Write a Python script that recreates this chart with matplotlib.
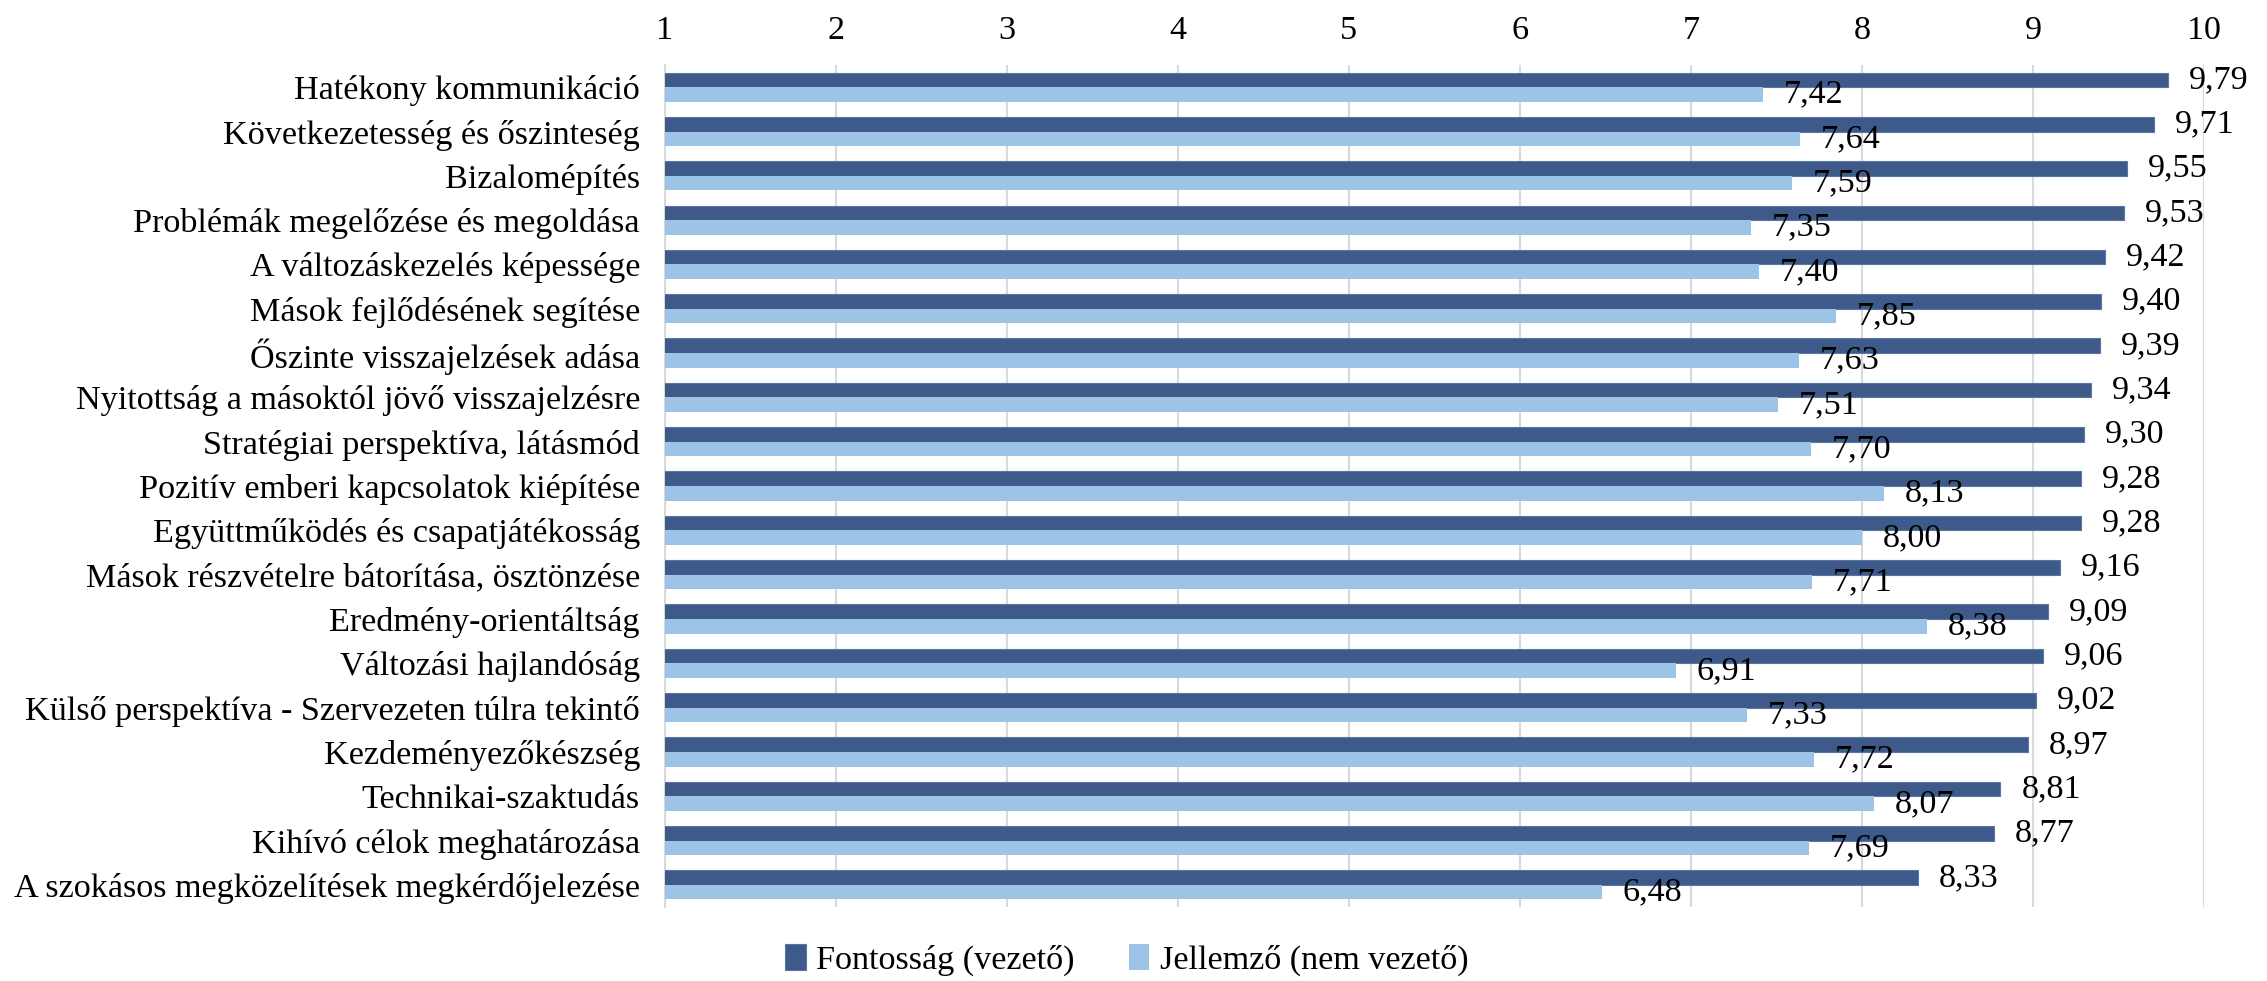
import numpy as np
import matplotlib.pyplot as plt

plt.rcParams['font.family'] = ['Liberation Serif', 'DejaVu Serif']

kategoriak = [
    "Hatékony kommunikáció",
    "Következetesség és őszinteség",
    "Bizalomépítés",
    "Problémák megelőzése és megoldása",
    "A változáskezelés képessége",
    "Mások fejlődésének segítése",
    "Őszinte visszajelzések adása",
    "Nyitottság a másoktól jövő visszajelzésre",
    "Stratégiai perspektíva, látásmód",
    "Pozitív emberi kapcsolatok kiépítése",
    "Együttműködés és csapatjátékosság",
    "Mások részvételre bátorítása, ösztönzése",
    "Eredmény-orientáltság",
    "Változási hajlandóság",
    "Külső perspektíva - Szervezeten túlra tekintő",
    "Kezdeményezőkészség",
    "Technikai-szaktudás",
    "Kihívó célok meghatározása",
    "A szokásos megközelítések megkérdőjelezése",
]
fontossag = [9.79, 9.71, 9.55, 9.53, 9.42, 9.40, 9.39, 9.34, 9.30, 9.28,
             9.28, 9.16, 9.09, 9.06, 9.02, 8.97, 8.81, 8.77, 8.33]
jellemzo = [7.42, 7.64, 7.59, 7.35, 7.40, 7.85, 7.63, 7.51, 7.70, 8.13,
            8.00, 7.71, 8.38, 6.91, 7.33, 7.72, 8.07, 7.69, 6.48]
x_tickek = list(range(1, 11))

sotet = "#3d5a8a"
vilagos = "#9dc3e6"
meret = 24.6

fig = plt.figure(figsize=(22.67, 9.81), dpi=100)
ax = fig.add_axes([0.2933, 0.0754, 0.6789, 0.8583])

y = np.arange(len(kategoriak))
h = 0.33
b1 = ax.barh(y - h / 2, fontossag, height=h, color=sotet, edgecolor="#5a76a3",
             linewidth=0.8, label="Fontosság (vezető)", zorder=3)
b2 = ax.barh(y + h / 2, jellemzo, height=h, color=vilagos,
             label="Jellemző (nem vezető)", zorder=3)

fmt = lambda v: f"{v:.2f}".replace(".", ",")
ax.bar_label(b1, labels=[fmt(v) for v in fontossag], padding=15, fontsize=meret)
ax.bar_label(b2, labels=[fmt(v) for v in jellemzo], padding=15, fontsize=meret)

ax.set_xlim(1, 10)
ax.set_ylim(len(kategoriak) - 0.5, -0.5)
ax.set_xticks(x_tickek)
ax.xaxis.tick_top()
ax.set_yticks(y)
ax.set_yticklabels(kategoriak)
ax.tick_params(axis="both", length=0, labelsize=meret)
ax.tick_params(axis="x", pad=14)
ax.tick_params(axis="y", pad=18)
ax.grid(axis="x", color="#d9d9d9", linewidth=1.5, zorder=0)
for s in ["top", "right", "bottom"]:
    ax.spines[s].set_visible(False)
ax.spines["left"].set_color("#d9d9d9")
ax.spines["left"].set_linewidth(1.5)

fig.legend(handles=[b1, b2], loc="center", bbox_to_anchor=(0.497, 0.021),
           ncol=2, frameon=False, fontsize=meret, handlelength=0.6,
           handleheight=0.8, handletextpad=0.3, columnspacing=1.6)

fig.savefig("out.png", dpi=100)
